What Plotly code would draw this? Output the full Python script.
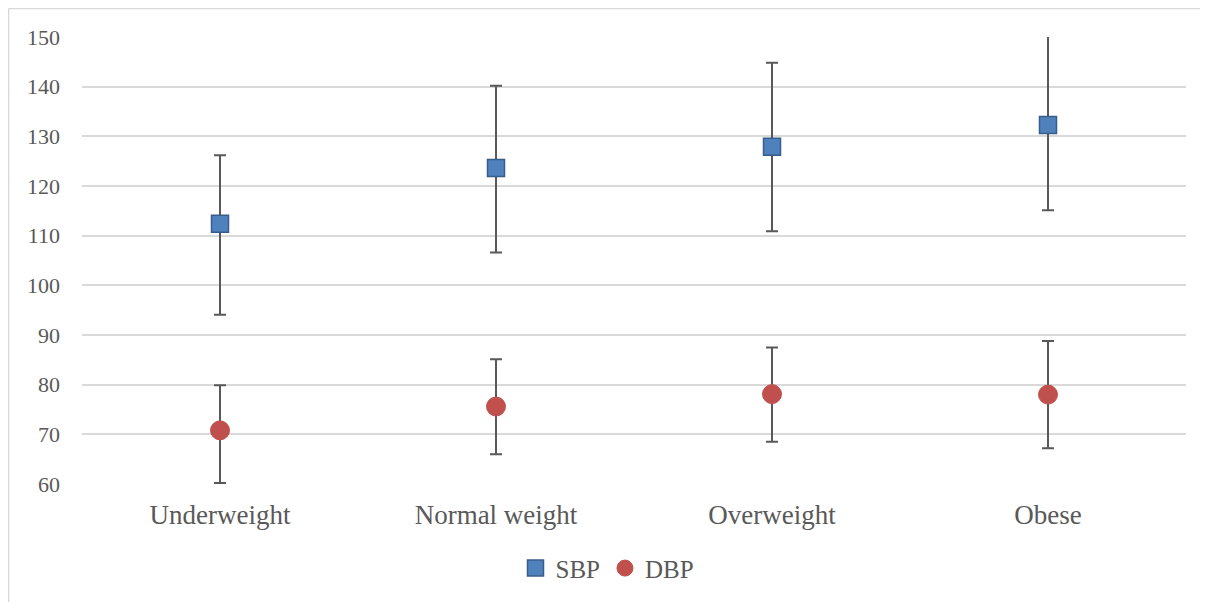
import plotly.graph_objects as go

categories = ["Underweight", "Normal weight", "Overweight", "Obese"]
sbp_mean = [112.4, 123.6, 127.9, 132.3]
sbp_plus = [13.8, 16.6, 16.9, 18.0]
sbp_minus = [18.3, 17.0, 17.0, 17.2]
dbp_mean = [70.8, 75.6, 78.1, 78.0]
dbp_plus = [9.1, 9.5, 9.4, 10.8]
dbp_minus = [10.6, 9.6, 9.6, 10.8]

err_color = "#595959"

fig = go.Figure()
fig.add_trace(go.Scatter(
    x=categories, y=sbp_mean, mode="markers", name="SBP",
    marker=dict(symbol="square", size=17, color="#4f81bd",
                line=dict(color="#385d8a", width=1.5)),
    error_y=dict(type="data", symmetric=False, array=sbp_plus, arrayminus=sbp_minus,
                 color=err_color, thickness=2, width=6),
))
fig.add_trace(go.Scatter(
    x=categories, y=dbp_mean, mode="markers", name="DBP",
    marker=dict(symbol="circle", size=19, color="#c0504d",
                line=dict(color="#c0504d", width=1)),
    error_y=dict(type="data", symmetric=False, array=dbp_plus, arrayminus=dbp_minus,
                 color=err_color, thickness=2, width=6),
))

border = dict(color="#d9d9d9", width=1.5)
fig.update_layout(
    width=1200, height=594,
    margin=dict(l=74, r=22, t=29, b=117),
    paper_bgcolor="white", plot_bgcolor="white",
    font=dict(family="Liberation Serif, Times New Roman, serif", color="#595959", size=22),
    showlegend=True,
    legend=dict(orientation="h", x=0.476, xanchor="center", y=-0.186, yanchor="middle",
                font=dict(size=25, color="#595959"), itemwidth=30, tracegroupgap=0),
    shapes=[
        dict(type="line", xref="paper", yref="paper", x0=-0.0665, x1=-0.0665,
             y0=-0.6, y1=1.0635, line=border, layer="below"),
        dict(type="line", xref="paper", yref="paper", x0=-0.0665, x1=1.3,
             y0=1.0635, y1=1.0635, line=border, layer="below"),
    ],
)
fig.update_xaxes(range=[-0.5, 3.5], showgrid=False, showline=False, zeroline=False,
                 tickfont=dict(size=27), ticks="", ticklabelstandoff=12)
fig.update_yaxes(range=[60, 150], dtick=10, showgrid=True, gridcolor="#d9d9d9",
                 gridwidth=1.5, zeroline=False, showline=False, ticks="",
                 tickfont=dict(size=22), ticklabelstandoff=21)

fig.write_html("out.html")
